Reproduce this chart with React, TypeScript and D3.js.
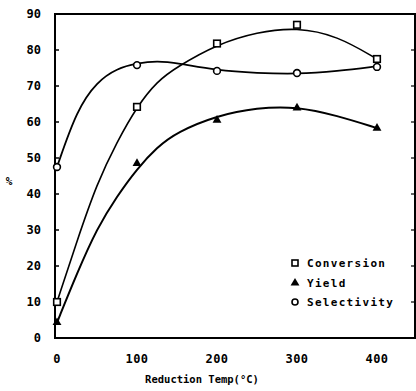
import React from "react";
import * as d3 from "d3";

// measured data points (markers)
const temps = [0, 100, 200, 300, 400];
const conversion = [10, 64.2, 81.8, 87, 77.5];
const yieldVals = [4.3, 48.5, 60.5, 63.9, 58.3];
const selectivity = [47.5, 75.8, 74.2, 73.6, 75.3];

// smooth fitted curves as drawn in the figure
const fitTemps = [0, 25, 50, 75, 100, 125, 150, 200, 250, 300, 350, 400];
const conversionFit = [10, 27, 43, 54.5, 64.3, 71.3, 75.3, 81.6, 85, 86.3, 84, 77.5];
const yieldFit = [4.3, 18, 30.5, 39.4, 47, 53, 57.2, 61.8, 64, 64.3, 61.8, 58.3];
const selectivityFit = [47.5, 63.5, 71.2, 74.9, 76.3, 77, 76.4, 74.3, 73.6, 73.3, 74.1, 75.5];

const xTicks = [0, 100, 200, 300, 400];
const yTicks = [0, 10, 20, 30, 40, 50, 60, 70, 80, 90];
const legendItems = ["Conversion", "Yield", "Selectivity"];

const W = 416, H = 391;
const FONT = "'DejaVu Sans Mono', monospace";

export default function App() {
  const x = d3.scaleLinear().domain([0, 447.5]).range([57, 415]);
  const y = d3.scaleLinear().domain([0, 90]).range([338, 14]);
  const line = d3
    .line<[number, number]>()
    .x((d) => x(d[0]))
    .y((d) => y(d[1]))
    .curve(d3.curveBasis);
  const pts = (vals: number[]) => fitTemps.map((t, i) => [t, vals[i]] as [number, number]);
  const tri = d3.symbol().type(d3.symbolTriangle).size(34)();

  return (
    <svg width={W} height={H} style={{ position: "absolute", left: 0, top: 0, background: "#fff" }}>
      <g fill="none" stroke="#000" strokeLinejoin="round">
        <path d={line(pts(conversionFit)) || ""} strokeWidth={1.6} />
        <path d={line(pts(yieldFit)) || ""} strokeWidth={2} />
        <path d={line(pts(selectivityFit)) || ""} strokeWidth={1.8} />
      </g>
      {/* frame */}
      <rect x={55} y={14} width={360} height={324} fill="none" stroke="#000" strokeWidth={2} />
      {yTicks.map((t) => (
        <g key={t}>
          <line x1={55} x2={59} y1={y(t)} y2={y(t)} stroke="#000" strokeWidth={1.5} />
          <line x1={411} x2={415} y1={y(t)} y2={y(t)} stroke="#000" strokeWidth={1.2} />
          <text x={41} y={y(t)} dy="0.35em" textAnchor="end" fontFamily={FONT} fontWeight="bold" fontSize={12}>
            {t}
          </text>
        </g>
      ))}
      {xTicks.map((t) => (
        <text key={t} x={x(t)} y={363} textAnchor="middle" fontFamily={FONT} fontWeight="bold" fontSize={12} letterSpacing={0.4}>
          {t}
        </text>
      ))}
      <text x={202} y={383} textAnchor="middle" fontFamily={FONT} fontWeight="bold" fontSize={10.5}>
        Reduction Temp(°C)
      </text>
      <text x={9} y={185} textAnchor="middle" fontFamily={FONT} fontWeight="bold" fontSize={11}>
        %
      </text>
      {/* markers */}
      {temps.map((t, i) => (
        <rect key={"c" + i} x={x(t) - 3.3} y={y(conversion[i]) - 3.3} width={6.6} height={6.6} fill="#fff" stroke="#000" strokeWidth={1.6} />
      ))}
      {temps.map((t, i) => (
        <circle key={"s" + i} cx={x(t)} cy={y(selectivity[i])} r={3.4} fill="#fff" stroke="#000" strokeWidth={1.6} />
      ))}
      {temps.map((t, i) => (
        <path key={"y" + i} d={tri || ""} transform={`translate(${x(t)},${y(yieldVals[i])})`} fill="#000" />
      ))}
      {/* legend */}
      <g fontFamily={FONT} fontWeight="bold" fontSize={11}>
        <rect x={292} y={260} width={6} height={6} fill="#fff" stroke="#000" strokeWidth={1.6} />
        <text x={307} y={267} letterSpacing={1.3}>{legendItems[0]}</text>
        <path d={tri || ""} transform="translate(295,283)" fill="#000" />
        <text x={307} y={287} letterSpacing={1.3}>{legendItems[1]}</text>
        <circle cx={295} cy={302} r={3} fill="#fff" stroke="#000" strokeWidth={1.6} />
        <text x={307} y={306} letterSpacing={1.3}>{legendItems[2]}</text>
      </g>
    </svg>
  );
}
